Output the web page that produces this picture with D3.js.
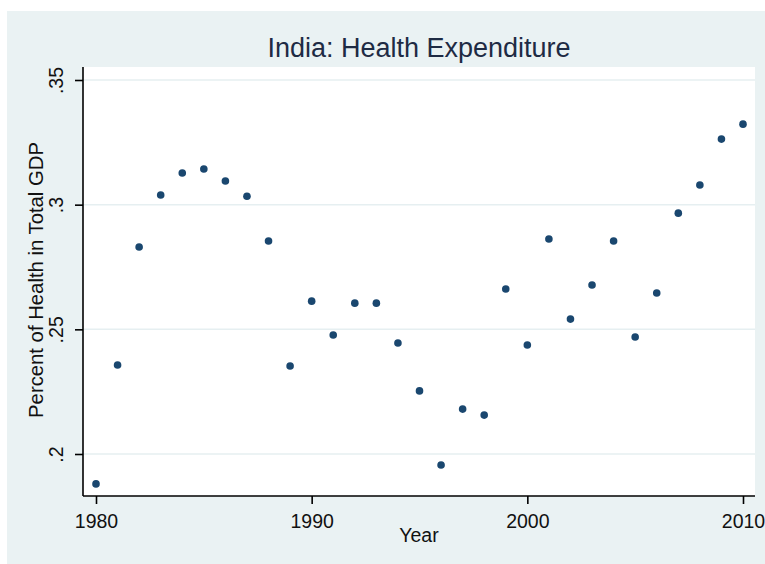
<!DOCTYPE html>
<html><head><meta charset="utf-8">
<script src="https://cdn.jsdelivr.net/npm/d3@7"></script>
<style>body{margin:0;background:#fff}svg{display:block}text{font-family:"Liberation Sans",Arial,sans-serif}</style>
</head><body>
<svg id="c" width="765" height="564"></svg>
<script>
const years = [1980,1981,1982,1983,1984,1985,1986,1987,1988,1989,1990,1991,1992,1993,1994,1995,1996,1997,1998,1999,2000,2001,2002,2003,2004,2005,2006,2007,2008,2009,2010];
const values = [0.188,0.2357,0.283,0.3039,0.3127,0.3143,0.3095,0.3034,0.2854,0.2353,0.2613,0.2477,0.2605,0.2605,0.2445,0.2253,0.1956,0.2180,0.2156,0.2662,0.2437,0.2862,0.2541,0.2678,0.2854,0.2469,0.2646,0.2966,0.3079,0.3263,0.3323];
const xTicks = [1980,1990,2000,2010];
const yTicks = [0.2,0.25,0.3,0.35];
const yTickLabels = [".2",".25",".3",".35"];

const FONT = '"Liberation Sans",Arial,sans-serif';
const svg = d3.select("#c");
svg.append("rect").attr("x",7).attr("y",11).attr("width",758).attr("height",553).attr("fill","#eaf2f3");
const L=83,R=755,T=67,B=496;
svg.append("rect").attr("x",L).attr("y",T).attr("width",R-L).attr("height",B-T).attr("fill","#fff");

const x = d3.scaleLinear().domain([1980,2010]).range([96,743]);
const y = d3.scaleLinear().domain([0.2,0.35]).range([454,80]);

// gridlines
svg.append("g").selectAll("line").data(yTicks).join("line")
  .attr("x1",L).attr("x2",R).attr("y1",d=>y(d)).attr("y2",d=>y(d))
  .attr("stroke","#e6eff1").attr("stroke-width",1.5);

// x axis
const xa = svg.append("g").attr("transform",`translate(0,${B})`)
  .call(d3.axisBottom(x).tickValues(xTicks).tickFormat(d3.format("d")).tickSize(8).tickPadding(0));
xa.select(".domain").attr("d",`M${L},0H${R}`).attr("stroke","#000").attr("stroke-width",1.6);
xa.selectAll(".tick line").attr("stroke","#000").attr("stroke-width",1.6);
xa.selectAll(".tick text").attr("font-size",19.5).attr("fill","#111").style("font-family",FONT)
  .attr("dy",0).attr("y",32);

// y axis
const ya = svg.append("g").attr("transform",`translate(${L},0)`)
  .call(d3.axisLeft(y).tickValues(yTicks).tickFormat((d,i)=>yTickLabels[i]).tickSize(8).tickPadding(6));
ya.select(".domain").attr("d",`M0,${T}V${B}`).attr("stroke","#000").attr("stroke-width",1.6);
ya.selectAll(".tick line").attr("stroke","#000").attr("stroke-width",1.6);
ya.selectAll(".tick text").attr("font-size",19.5).attr("fill","#111")
  .style("font-family",FONT)
  .attr("text-anchor","middle").attr("dy",0).attr("x",0).attr("y",0)
  .attr("transform","translate(-20,0) rotate(-90)");

// points
svg.append("g").selectAll("circle").data(years.map((yr,i)=>({yr,v:values[i]}))).join("circle")
  .attr("cx",d=>x(d.yr)).attr("cy",d=>y(d.v)).attr("r",3.8).attr("fill","#1a476f");

// titles
svg.append("text").attr("x",419).attr("y",57).attr("text-anchor","middle").attr("font-size",27).attr("fill","#1e2b44").text("India: Health Expenditure");
svg.append("text").attr("x",419).attr("y",542).attr("text-anchor","middle").attr("font-size",19.5).attr("fill","#111").text("Year");
svg.append("text").attr("transform",`translate(43,280) rotate(-90)`).attr("text-anchor","middle").attr("font-size",20.3).attr("fill","#111").text("Percent of Health in Total GDP");
</script>
</body></html>
